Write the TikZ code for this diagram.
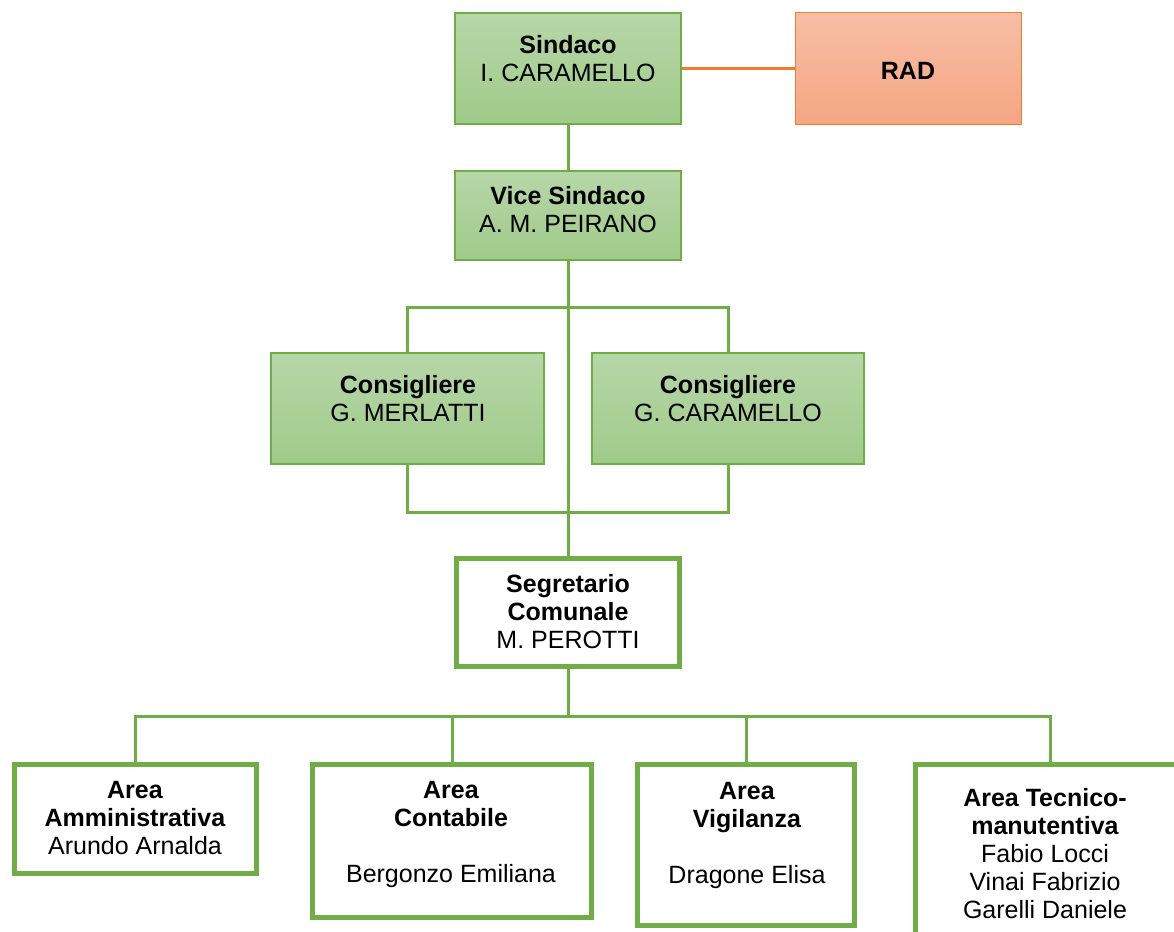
\documentclass[tikz,border=0pt]{standalone}
\usepackage{fontspec}
\setmainfont{Liberation Sans}
\definecolor{gline}{HTML}{70AD47}
\definecolor{gtop}{HTML}{B6D7A8}
\definecolor{gbot}{HTML}{A0CA8A}
\definecolor{oline}{HTML}{ED7D31}
\definecolor{otop}{HTML}{F8BEA6}
\definecolor{obot}{HTML}{F4A682}
\begin{document}
\begin{tikzpicture}[x=1pt,y=-1pt,
  gbox/.style={draw=gline, line width=2pt, top color=gtop, bottom color=gbot, inner sep=0pt},
  obox/.style={draw=oline, line width=1pt, top color=otop, bottom color=obot, inner sep=0pt},
  wbox/.style={draw=gline, line width=5pt, fill=white, inner sep=0pt},
  txt/.style={anchor=north, inner sep=0pt, align=center, font=\fontsize{25}{28}\selectfont},
  gl/.style={draw=gline, line width=3pt},
  ol/.style={draw=oline, line width=3.5pt}]
\useasboundingbox (0,0) rectangle (1174,931);
\clip (0,0) rectangle (1174,931);
\fill[white] (0,0) rectangle (1174,931);

% boxes
\node[gbox, minimum width=226pt, minimum height=111pt] (sind) at (568,68.5) {};
\node[obox, minimum width=226pt, minimum height=111pt] (rad) at (908.5,68.5) {};
\node[gbox, minimum width=226pt, minimum height=89pt] (vice) at (568,215.5) {};
\node[gbox, minimum width=273pt, minimum height=111pt] (cons1) at (407.5,408.5) {};
\node[gbox, minimum width=272pt, minimum height=111pt] (cons2) at (728,408.5) {};
\node[wbox, minimum width=223pt, minimum height=108pt] (segr) at (568,612.5) {};
\node[wbox, minimum width=242pt, minimum height=109pt] (amm) at (135.5,819) {};
\node[wbox, minimum width=279pt, minimum height=153pt] (cont) at (452,841) {};
\node[wbox, minimum width=217pt, minimum height=161pt] (vig) at (746,845) {};
\node[wbox, minimum width=270pt, minimum height=196pt] (tec) at (1050,862) {};

% connector coordinates
\coordinate (ut) at (568,307);
\coordinate (lb) at (568,512);
\coordinate (bus) at (568,716);

% connectors
\draw[ol] (sind.east) -- (rad.west);
\draw[gl] (sind.south) -- (vice.north);
\draw[gl] (cons1.north) |- (ut) -| (cons2.north);
\draw[gl] (cons1.south) |- (lb) -| (cons2.south);
\draw[gl] (vice.south) -- (segr.north);
\draw[gl] (segr.south) -- (bus);
\draw[gl] (amm.north) |- (bus) -| (tec.north);
\draw[gl] (cont.north) -- (cont.north |- bus);
\draw[gl] (vig.north) -- (vig.north |- bus);

% texts
\node[txt] (tsind) at (568,33.4) {\strut\textbf{Sindaco}\\\strut I. CARAMELLO};
\node[txt] (trad) at (908,59.4) {\strut\textbf{RAD}};
\node[txt] (tvice) at (568,184.4) {\strut\textbf{Vice Sindaco}\\\strut A. M. PEIRANO};
\node[txt] (tcons1) at (408,373.4) {\strut\textbf{Consigliere}\\\strut G. MERLATTI};
\node[txt] (tcons2) at (728,373.4) {\strut\textbf{Consigliere}\\\strut G. CARAMELLO};
\node[txt] (tsegr) at (568,572.4) {\strut\textbf{Segretario}\\\strut\textbf{Comunale}\\\strut M. PEROTTI};
\node[txt] (tamm) at (135,778.4) {\strut\textbf{Area}\\\strut\textbf{Amministrativa}\\\strut Arundo Arnalda};
\node[txt] (tcont) at (451,778.4) {\strut\textbf{Area}\\\strut\textbf{Contabile}\\\strut\\\strut Bergonzo Emiliana};
\node[txt] (tvig) at (747,779.4) {\strut\textbf{Area}\\\strut\textbf{Vigilanza}\\\strut\\\strut Dragone Elisa};
\node[txt] (ttec) at (1045,786.4) {\strut\textbf{Area Tecnico-}\\\strut\textbf{manutentiva}\\\strut Fabio Locci\\\strut Vinai Fabrizio\\\strut Garelli Daniele};
\end{tikzpicture}
\end{document}
